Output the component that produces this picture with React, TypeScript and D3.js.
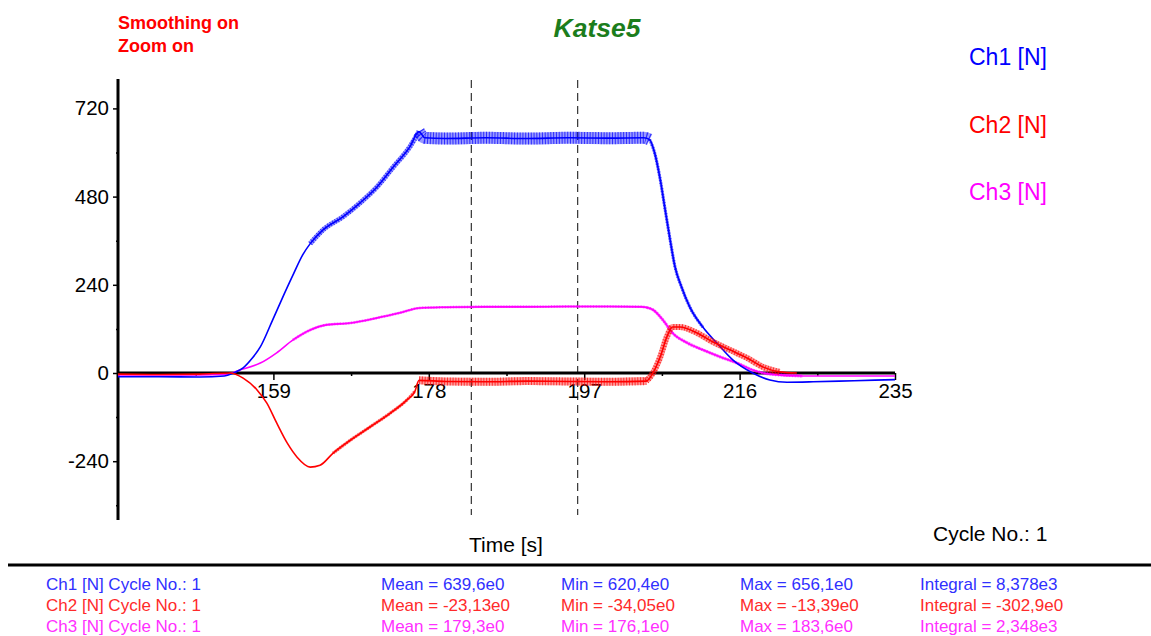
import React, { useEffect, useRef } from 'react';
import * as d3 from 'd3';

// channel traces (time in s, force in N)
const ch1Time = [140, 145, 150, 153, 154.1, 155.3, 156.4, 157.4, 158.9, 160.0, 161.3, 162.6, 163.5, 165.1, 167.5, 169.6, 171.7, 173.6, 175.7, 176.8, 177.5, 180, 185, 190, 195, 200, 204.3, 205.0, 205.6, 206.3, 206.9, 207.5, 208.1, 208.9, 209.9, 211.5, 213.2, 215.2, 217.6, 219.7, 221.8, 225, 230, 235];
const ch1Values = [-10, -10, -11, -8, 0, 14, 40, 71, 144, 199, 262, 322, 352, 390, 425, 463, 507, 559, 616, 657, 640, 638, 640, 638, 640, 639, 640, 635, 600, 526, 444, 363, 289, 234, 180, 125, 82, 35, 0, -19, -25, -24, -21, -18];

const ch2Time = [140, 145, 150, 153.7, 155.3, 157, 158.2, 159.4, 160.7, 161.9, 163.5, 164.7, 166.3, 168.4, 170.8, 173.3, 175.3, 176.3, 176.8, 180, 185, 190, 195, 200, 204.6, 205.4, 206.3, 207.1, 207.8, 208.7, 210.8, 212.7, 214.8, 216.9, 218.9, 220.9, 223];
const ch2Values = [-3, -4, -3, 0, -14, -46, -82, -136, -191, -229, -256, -251, -218, -183, -147, -109, -74, -50, -20, -23, -24, -22, -23, -24, -22, 0, 44, 98, 125, 125, 109, 85, 63, 41, 16, 3, 0];

const ch3Time = [140, 145, 150, 153, 154.9, 157.4, 159.4, 161.4, 163.5, 165.5, 168.4, 171.7, 174.5, 176.9, 180, 185, 190, 195, 200, 204.0, 204.7, 205.4, 206.6, 207.8, 209.6, 211.5, 213.6, 215.7, 217.6, 219.7, 223.7, 230, 235];
const ch3Values = [-5, -5, -5, -4, 8, 27, 55, 90, 117, 131, 136, 150, 164, 177, 179, 180, 180, 181, 181, 180, 178, 172, 145, 109, 82, 63, 44, 27, 8, -3, -8, -8, -8];

// time ranges where the signal oscillates (drawn as a noisy band): from, to, band width
const ch1Noise = [[163.5, 176.8, 5], [176.8, 205.0, 12], [205.0, 211.5, 3]];
const ch2Noise = [[166.3, 176.3, 3], [176.8, 204.6, 8], [204.6, 220.9, 6]];
const ch3Noise = [[161.4, 204.7, 2.5], [204.7, 223.7, 3]];

const cursorTimes = [183.2, 196.2];

const xTicks = [159, 178, 197, 216, 235];
const xMinorTicks = [149.5, 168.5, 187.5, 206.5, 225.5];
const yTicks = [-240, 0, 240, 480, 720];
const yMinorTicks = [-360, -120, 120, 360, 600];

const legendLabels = ['Ch1 [N]', 'Ch2 [N]', 'Ch3 [N]'];
const statChannel = ['Ch1 [N] Cycle No.: 1', 'Ch2 [N] Cycle No.: 1', 'Ch3 [N] Cycle No.: 1'];
const statMean = ['Mean = 639,6e0', 'Mean = -23,13e0', 'Mean = 179,3e0'];
const statMin = ['Min = 620,4e0', 'Min = -34,05e0', 'Min = 176,1e0'];
const statMax = ['Max = 656,1e0', 'Max = -13,39e0', 'Max = 183,6e0'];
const statIntegral = ['Integral = 8,378e3', 'Integral = -302,9e0', 'Integral = 2,348e3'];

const colors = ['#0000ff', '#ff0000', '#ff00ff'];
const statColors = ['#3030ff', '#ff2a2a', '#ff30ff'];
const font = '"Liberation Sans", Arial, Helvetica, sans-serif';

export default function App() {
  const ref = useRef<SVGSVGElement>(null);

  useEffect(() => {
    const svg = d3.select(ref.current);
    svg.selectAll('*').remove();

    const x = d3.scaleLinear().domain([140, 235]).range([118, 895]);
    const y = d3.scaleLinear().domain([-400, 800]).range([520, 79]);

    svg.append('rect').attr('width', 1151).attr('height', 636).attr('fill', '#fff');

    // header texts
    svg.append('text').attr('x', 118).attr('y', 29).text('Smoothing on')
      .attr('font-family', font).attr('font-size', 18).attr('font-weight', 'bold').attr('fill', '#ff0000');
    svg.append('text').attr('x', 118).attr('y', 52).text('Zoom on')
      .attr('font-family', font).attr('font-size', 18).attr('font-weight', 'bold').attr('fill', '#ff0000');
    svg.append('text').attr('x', 597).attr('y', 37).text('Katse5').attr('text-anchor', 'middle')
      .attr('font-family', font).attr('font-size', 26.5).attr('font-weight', 'bold').attr('font-style', 'italic')
      .attr('fill', '#1c7d1c');

    legendLabels.forEach((l, i) => {
      svg.append('text').attr('x', 969).attr('y', 65 + i * 67.5).text(l)
        .attr('font-family', font).attr('font-size', 23).attr('fill', colors[i]);
    });

    // cursors
    cursorTimes.forEach(t => {
      svg.append('line').attr('x1', x(t)).attr('x2', x(t)).attr('y1', y(800) + 1).attr('y2', y(-400) - 5)
        .attr('stroke', '#333').attr('stroke-width', 1.2).attr('stroke-dasharray', '8 5');
    });

    // axes
    const fmt = (d: d3.NumberValue) => String(d);
    const gx = svg.append('g').attr('transform', `translate(0,${y(0)})`);
    gx.call(d3.axisBottom(x).tickValues(xTicks).tickSize(7).tickPadding(3).tickFormat(fmt));
    gx.append('g').call(d3.axisBottom(x).tickValues(xMinorTicks).tickSize(3).tickFormat(() => ''));
    const gy = svg.append('g').attr('transform', `translate(${x(140)},0)`);
    gy.call(d3.axisLeft(y).tickValues(yTicks).tickSize(5).tickPadding(4).tickFormat(fmt));
    gy.append('g').call(d3.axisLeft(y).tickValues(yMinorTicks).tickSize(2).tickFormat(() => ''));
    svg.selectAll('.domain').remove();
    svg.selectAll('.tick line').attr('stroke', '#000').attr('stroke-width', 1.5);
    svg.selectAll('.tick text').attr('font-family', font).attr('font-size', 20.5).attr('fill', '#000');

    svg.append('line').attr('x1', x(140)).attr('x2', x(140)).attr('y1', y(800)).attr('y2', y(-400))
      .attr('stroke', '#000').attr('stroke-width', 3);
    svg.append('line').attr('x1', x(140) - 1).attr('x2', x(235)).attr('y1', y(0)).attr('y2', y(0))
      .attr('stroke', '#000').attr('stroke-width', 3);

    // traces
    const line = d3.line<[number, number]>().x(d => x(d[0])).y(d => y(d[1])).curve(d3.curveMonotoneX);
    const drawSeries = (times: number[], values: number[], noise: number[][], color: string) => {
      const pts = times.map((t, i) => [t, values[i]] as [number, number]);
      const g = svg.append('g').attr('fill', 'none').attr('stroke', color);
      noise.forEach(([from, to, w]) => {
        const seg = pts.filter(p => p[0] >= from && p[0] <= to);
        g.append('path').attr('d', line(seg)).attr('stroke-width', w).attr('stroke-opacity', 0.4);
        g.append('path').attr('d', line(seg)).attr('stroke-width', w).attr('stroke-opacity', 0.7)
          .attr('stroke-dasharray', '1 1.8');
      });
      g.append('path').attr('d', line(pts)).attr('stroke-width', 1.6).attr('stroke-linejoin', 'round');
    };
    drawSeries(ch3Time, ch3Values, ch3Noise, colors[2]);
    drawSeries(ch1Time, ch1Values, ch1Noise, colors[0]);
    drawSeries(ch2Time, ch2Values, ch2Noise, colors[1]);

    // axis titles
    svg.append('text').attr('x', 469).attr('y', 552).text('Time [s]')
      .attr('font-family', font).attr('font-size', 21).attr('fill', '#000');
    svg.append('text').attr('x', 933).attr('y', 541).text('Cycle No.: 1')
      .attr('font-family', font).attr('font-size', 21).attr('fill', '#000');

    // stats table
    svg.append('line').attr('x1', 8).attr('x2', 1151).attr('y1', 565).attr('y2', 565)
      .attr('stroke', '#000').attr('stroke-width', 3);
    const columns = [[46, statChannel], [381, statMean], [561, statMin], [740, statMax], [920, statIntegral]] as [number, string[]][];
    columns.forEach(([cx, texts]) => {
      texts.forEach((t, i) => {
        svg.append('text').attr('x', cx).attr('y', 590 + i * 21).text(t)
          .attr('font-family', font).attr('font-size', 17).attr('fill', statColors[i]);
      });
    });
  }, []);

  return <svg ref={ref} width={1151} height={636} style={{ position: 'absolute', left: 0, top: 0 }} />;
}
